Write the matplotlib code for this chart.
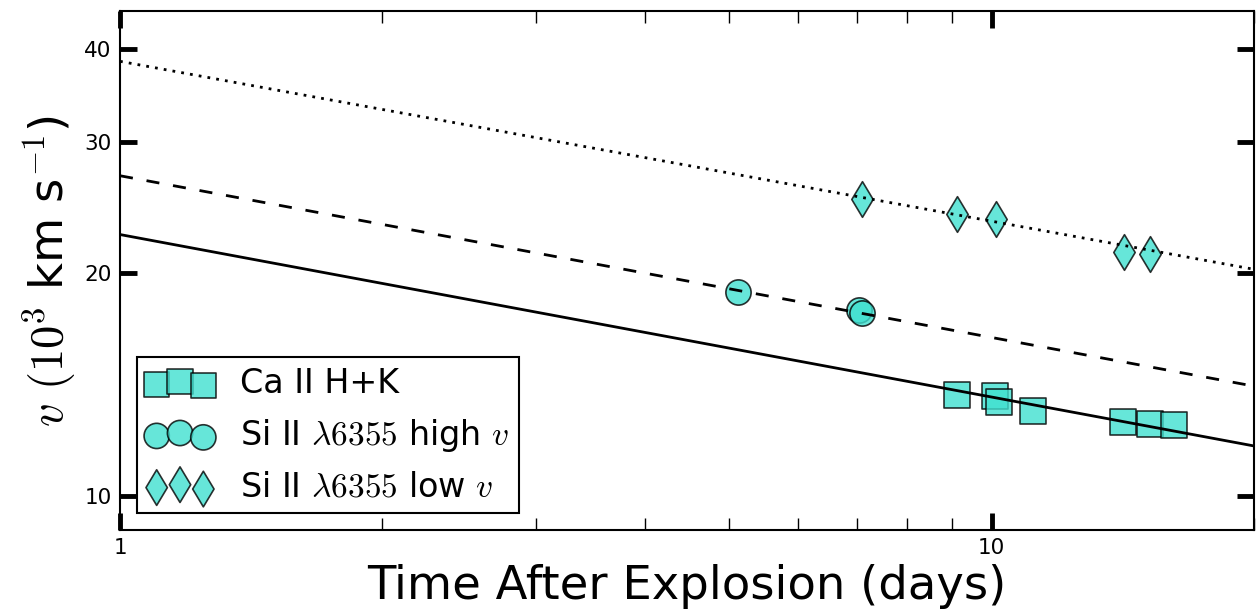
import numpy as np
import matplotlib
matplotlib.use('Agg')
import matplotlib.pyplot as plt

plt.rcParams['mathtext.fontset'] = 'cm'
plt.rcParams['font.family'] = 'DejaVu Sans'

# velocity measurements (days after explosion, 10^3 km/s)
ca_t = [9.13, 10.1, 10.2, 11.16, 14.15, 15.18, 16.2]
ca_v = [13.7, 13.65, 13.4, 13.0, 12.6, 12.5, 12.45]

si_high_t = [5.12, 7.05, 7.1]
si_high_v = [18.8, 17.8, 17.65]

si_low_t = [7.1, 9.12, 10.13, 14.17, 15.18]
si_low_v = [25.1, 24.0, 23.6, 21.3, 21.2]

# power-law fits, evaluated at the plot edges
fit_t = [1.0, 20.0]
ca_fit = [22.5, 11.68]
si_high_fit = [27.0, 14.06]
si_low_fit = [38.5, 20.2]

fig = plt.figure(figsize=(12.58, 6.16), dpi=100)
ax = fig.add_axes([0.0954, 0.1396, 0.9014, 0.8425])

kw = dict(s=330, facecolor='turquoise', edgecolor='k', alpha=0.8, linewidths=1.2)
ax.scatter(ca_t, ca_v, marker='s', label='Ca II H+K', **kw)
ax.scatter(si_high_t, si_high_v, marker='o', label=r'Si II $\lambda6355$ high $v$', **kw)
ax.scatter(si_low_t, si_low_v, marker='d', label=r'Si II $\lambda6355$ low $v$', **kw)

ax.plot(fit_t, ca_fit, 'k-', lw=2)
ax.plot(fit_t, si_high_fit, 'k', lw=2, dashes=(4.7, 5))
ax.plot(fit_t, si_low_fit, 'k', lw=2, dashes=(1, 2.2))

ax.set_xscale('log')
ax.set_yscale('log')
ax.set_xlim(1, 20)
ax.set_ylim(9, 45)

ax.set_yticks([10, 20, 30, 40])
ax.set_yticklabels(['10', '20', '30', '40'])
ax.yaxis.set_minor_locator(matplotlib.ticker.NullLocator())
ax.xaxis.set_major_formatter(matplotlib.ticker.FormatStrFormatter('%d'))
ax.xaxis.set_minor_formatter(matplotlib.ticker.NullFormatter())

ax.tick_params(which='both', direction='in', top=True, right=True, labelsize=15.5)
ax.tick_params(which='major', length=12, width=3.5, pad=6)
ax.tick_params(which='minor', length=8.5, width=1)
for sp in ax.spines.values():
    sp.set_linewidth(1.5)

ax.set_xlabel('Time After Explosion (days)', fontsize=33.5)
ax.set_ylabel(r'$v$ $(10^3$ km s$^{-1}$)', fontsize=33.5)

leg = ax.legend(loc='lower left', fontsize=24, scatterpoints=3, fancybox=False,
                edgecolor='k', framealpha=1, borderaxespad=0.5, borderpad=0.3)
leg.get_frame().set_linewidth(1.5)

fig.savefig('out.png', dpi=100)
